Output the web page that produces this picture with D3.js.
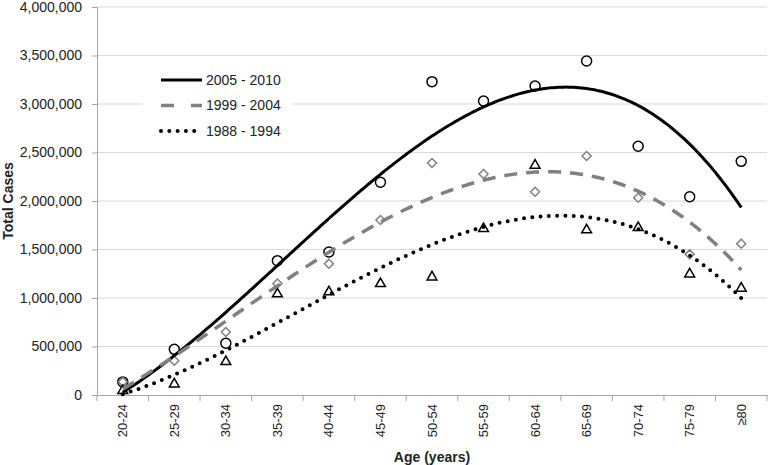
<!DOCTYPE html>
<html><head><meta charset="utf-8">
<script src="https://cdn.jsdelivr.net/npm/d3@7/dist/d3.min.js"></script>
<style>body{margin:0;background:#fff;} svg{display:block;font-family:"Liberation Sans",Arial,sans-serif;}</style>
</head><body><svg id="c" width="768" height="465"></svg>
<script>
const categories = ["20-24","25-29","30-34","35-39","40-44","45-49","50-54","55-59","60-64","65-69","70-74","75-79","≥80"];
const yTicks = [0,500000,1000000,1500000,2000000,2500000,3000000,3500000,4000000];
const seriesNames = ["2005 - 2010","1999 - 2004","1988 - 1994"];
// observed points
const cases2005 = [135000,471000,533000,1385000,1474000,2193000,3230000,3031000,3185000,3443000,2564000,2044000,2409000];
const cases1999 = [135000,354000,650000,1150000,1354000,1804000,2392000,2278000,2096000,2464000,2034000,1450000,1560000];
const cases1988 = [45000,113000,343000,1041000,1062000,1147000,1216000,1714000,2368000,1701000,1725000,1247000,1100000];
// trend lines (at each category; drawn as a cubic trend through them)
const trend2005 = [34000,402000,825000,1392000,1784000,2268000,2646000,3017000,3151000,3162000,2945000,2594000,1941000];
const trend1999 = [50000,420000,760000,1151000,1409000,1804000,2027000,2233000,2302000,2278000,2096000,1753000,1306000];
const trend1988 = [10000,206000,464000,722000,1065000,1306000,1546000,1718000,1838000,1845000,1718000,1426000,1003000];

const svg = d3.select("#c");
const L=97, R=767, T=7, B=395;
const x = d3.scaleBand().domain(categories).range([L,R]).padding(0);
const y = d3.scaleLinear().domain([0,4000000]).range([B,T]);
const cx = c => x(c) + x.bandwidth()/2;
const xi = d3.scaleLinear().domain([0,categories.length-1]).range([cx(categories[0]),cx(categories[categories.length-1])]);
const fmt = d3.format(",");

// cubic least-squares trend through the read values
function cubicFit(vals){
  const n=4, A=[...Array(n)].map(()=>Array(n+1).fill(0));
  vals.forEach((v,i)=>{ const t=i+1;
    for(let r=0;r<n;r++){ for(let c=0;c<n;c++) A[r][c]+=Math.pow(t,r+c); A[r][n]+=v*Math.pow(t,r); } });
  for(let p=0;p<n;p++){ let m=p; for(let r=p+1;r<n;r++) if(Math.abs(A[r][p])>Math.abs(A[m][p])) m=r;
    [A[p],A[m]]=[A[m],A[p]];
    for(let r=0;r<n;r++){ if(r===p) continue; const f=A[r][p]/A[p][p]; for(let c=p;c<=n;c++) A[r][c]-=f*A[p][c]; } }
  const co=A.map((row,i)=>row[n]/row[i]);
  return t=>co[0]+co[1]*t+co[2]*t*t+co[3]*t*t*t;
}

// gridlines
svg.append("g").selectAll("line").data(yTicks.filter(d=>d>0)).join("line")
  .attr("x1",L).attr("x2",R).attr("y1",d=>y(d)).attr("y2",d=>y(d))
  .attr("stroke","#d9d9d9").attr("stroke-width",1);

// y axis
const yAxis = svg.append("g").attr("transform",`translate(${L},0)`)
  .call(d3.axisLeft(y).tickValues(yTicks).tickFormat(fmt).tickSize(5).tickPadding(10));
yAxis.select(".domain").attr("stroke","#a6a6a6");
yAxis.selectAll(".tick line").attr("stroke","#a6a6a6");
yAxis.selectAll("text").attr("font-size",14).attr("fill","#222").style("font-family","Liberation Sans, Arial, sans-serif");

// x axis
const xAxis = svg.append("g").attr("transform",`translate(0,${B})`)
  .call(d3.axisBottom(x).tickSize(0).tickPadding(8));
xAxis.select(".domain").attr("stroke","#a6a6a6");
xAxis.selectAll("text").attr("font-size",13).attr("fill","#222")
  .attr("transform","rotate(-90)").attr("text-anchor","end")
  .attr("x",-9).attr("y",0).attr("dy","0.35em").style("font-family","Liberation Sans, Arial, sans-serif");
const bounds = categories.map(c=>x(c)).concat([R]);
svg.append("g").selectAll("line").data(bounds).join("line")
  .attr("x1",d=>d).attr("x2",d=>d).attr("y1",B).attr("y2",B+6)
  .attr("stroke","#a6a6a6");

// axis titles
svg.append("text").attr("x",(L+R)/2).attr("y",462).attr("text-anchor","middle")
  .attr("font-size",14).attr("font-weight","bold").attr("fill","#222").text("Age (years)");
svg.append("text").attr("transform",`translate(13,${(T+B)/2}) rotate(-90)`).attr("text-anchor","middle")
  .attr("font-size",14).attr("font-weight","bold").attr("fill","#222").text("Total Cases");

// markers
svg.append("g").selectAll("circle").data(cases2005).join("circle")
  .attr("cx",(d,i)=>cx(categories[i])).attr("cy",d=>y(d)).attr("r",5)
  .attr("fill","#fff").attr("stroke","#000").attr("stroke-width",1.5);
svg.append("g").selectAll("path").data(cases1999).join("path")
  .attr("transform",(d,i)=>`translate(${cx(categories[i])},${y(d)})`)
  .attr("d","M0,-4.5L4.5,0L0,4.5L-4.5,0Z")
  .attr("fill","#fff").attr("stroke","#808080").attr("stroke-width",1.5);
svg.append("g").selectAll("path").data(cases1988).join("path")
  .attr("transform",(d,i)=>`translate(${cx(categories[i])},${y(d)})`)
  .attr("d",d3.symbol(d3.symbolTriangle,42))
  .attr("fill","#fff").attr("stroke","#000").attr("stroke-width",1.5);

// trend lines
const styles = [
  {data:trend2005, stroke:"#000", w:3, dash:null, cap:"butt"},
  {data:trend1999, stroke:"#808080", w:3.5, dash:"13 9", cap:"butt"},
  {data:trend1988, stroke:"#000", w:4, dash:"0 8.3", cap:"round"}
];
const tSamples = d3.range(0, categories.length-1+1e-9, 0.05);
const line = d3.line().x(d=>xi(d[0])).y(d=>y(d[1]));
styles.forEach(s=>{
  const f = cubicFit(s.data);
  const pts = tSamples.map(t=>[t, f(t+1)]);
  svg.append("path").attr("d",line(pts)).attr("fill","none")
    .attr("stroke",s.stroke).attr("stroke-width",s.w)
    .attr("stroke-dasharray",s.dash).attr("stroke-linecap",s.cap);
});

// legend
const lg = svg.append("g");
lg.append("rect").attr("x",143).attr("y",66).attr("width",149).attr("height",79).attr("fill","#fff");
const ly = [80,105.5,131];
seriesNames.forEach((n,i)=>{
  const s = styles[i];
  lg.append("line").attr("x1",161).attr("x2",202).attr("y1",ly[i]).attr("y2",ly[i])
    .attr("stroke",s.stroke).attr("stroke-width",s.w)
    .attr("stroke-dasharray",i===1?"13 17":s.dash).attr("stroke-linecap",s.cap);
  lg.append("text").attr("x",206).attr("y",ly[i]).attr("dy","0.35em")
    .attr("font-size",14).attr("fill","#222").text(n);
});
</script></body></html>
